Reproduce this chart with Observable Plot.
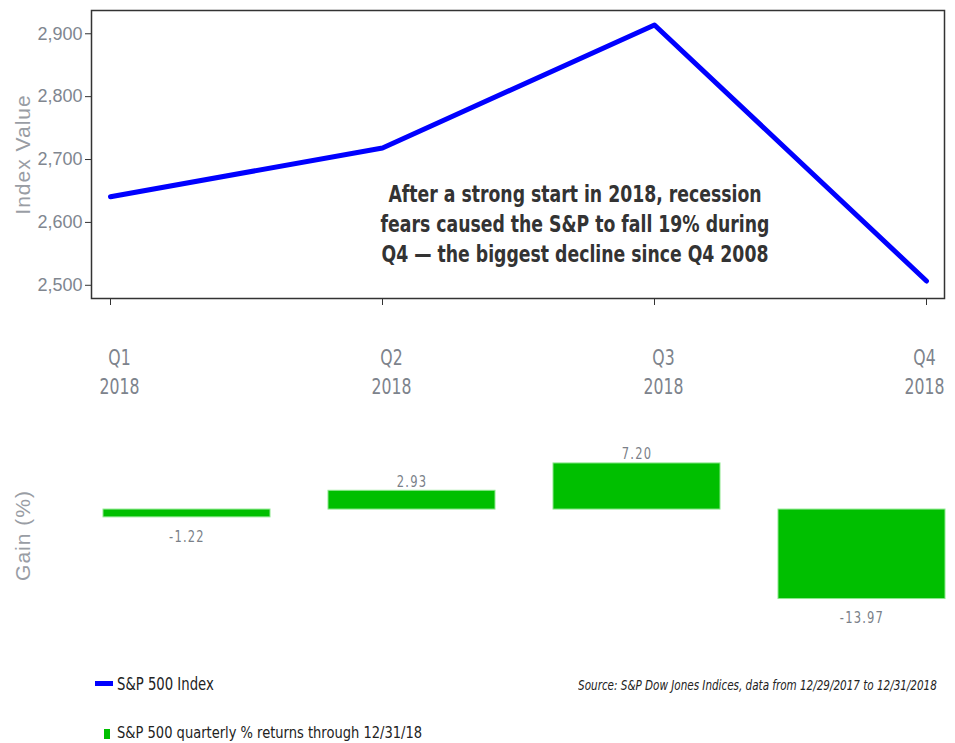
<!DOCTYPE html>
<html><head><meta charset="utf-8">
<script src="https://cdn.jsdelivr.net/npm/d3@7"></script>
<script src="https://cdn.jsdelivr.net/npm/@observablehq/plot@0.6"></script>
<style>
body{margin:0;background:#fff;}
#wrap{position:relative;width:955px;height:743px;overflow:hidden;background:#fff}
#line,#bars{position:absolute;left:0}
#line{top:0}
#bars{top:400px}
.narrow{font-family:"Liberation Sans Narrow","DejaVu Sans Condensed",sans-serif;}
.leg{position:absolute;font-size:17px;color:#222;white-space:nowrap;line-height:16px}
.sw{position:absolute}
</style></head><body>
<div id="wrap">
<div id="line"></div>
<div id="bars"></div>
<div id="legend"></div>
</div>
<script>
const quarters = ["Q1 2018", "Q2 2018", "Q3 2018", "Q4 2018"];
const indexValues = [2640.87, 2718.37, 2913.98, 2506.85];
const quarterlyReturns = [-1.22, 2.93, 7.20, -13.97];
const yTicks = [2500, 2600, 2700, 2800, 2900];
const annotation = "After a strong start in 2018, recession\nfears caused the S&P to fall 19% during\nQ4 \u2014 the biggest decline since Q4 2008";
const legendLabels = ["S&P 500 Index", "S&P 500 quarterly % returns through 12/31/18"];
const legendColors = ["#0000ff", "#00bf00"];
const sourceNote = "Source: S&P Dow Jones Indices, data from 12/29/2017 to 12/31/2018";

const NARROW = '"Liberation Sans Narrow","DejaVu Sans Condensed",sans-serif';
const REG = '"Liberation Sans",Arial,sans-serif';

const lineData = quarters.map((q, i) => ({quarter: q, value: indexValues[i]}));
const barData = quarters.map((q, i) => ({quarter: q, value: quarterlyReturns[i]}));

const lineChart = Plot.plot({
  width: 955, height: 400,
  marginLeft: 91, marginRight: 11, marginTop: 10, marginBottom: 102,
  style: {background: "#fff", fontFamily: REG},
  x: {type: "point", domain: quarters, padding: 0.066},
  y: {domain: [2479, 2937]},
  marks: [
    Plot.frame({stroke: "#333", strokeWidth: 1.5}),
    Plot.axisY({ticks: yTicks, tickFormat: d3.format(","), fontSize: 18, fill: "#80868f", stroke: "#333",
      tickSize: 6, label: "Index Value", labelAnchor: "center", labelOffset: 76, labelArrow: "none"}),
    Plot.axisX({tickSize: 7, tickPadding: 39, fontSize: 21, lineHeight: 1.38, fontFamily: NARROW,
      tickFormat: d => d.replace(" ", "\n"), fill: "#7d838c", stroke: "#333", label: null}),
    Plot.line(lineData, {x: "quarter", y: "value", stroke: "#0000ff", strokeWidth: 5}),
    Plot.text([annotation], {frameAnchor: "middle", dx: 57, dy: 68, text: d => d, fontFamily: NARROW,
      fontWeight: "bold", fontSize: 23, fill: "#333", lineHeight: 1.3})
  ]
});
document.getElementById("line").append(lineChart);

const barChart = Plot.plot({
  width: 955, height: 240,
  marginLeft: 102, marginRight: 9, marginTop: 45, marginBottom: 15,
  style: {background: "transparent", fontFamily: REG},
  x: {type: "band", domain: quarters, paddingInner: 0.26, paddingOuter: 0, axis: null},
  y: {domain: [-18.1, 10]},
  marks: [
    Plot.axisY({ticks: [], label: "Gain (%)", labelAnchor: "center", labelOffset: 87, labelArrow: "none",
      fontSize: 18, fill: "#858a93"}),
    Plot.barY(barData, {x: "quarter", y: "value", fill: "#00bf00", stroke: "#8ee88e", strokeWidth: 1}),
    Plot.text(barData.filter(d => d.value >= 0), {x: "quarter", y: "value", text: d => d.value.toFixed(2),
      lineAnchor: "bottom", dy: -4, fontSize: 16, fill: "#7a7f88", fontFamily: NARROW}),
    Plot.text(barData.filter(d => d.value < 0), {x: "quarter", y: "value", text: d => d.value.toFixed(2),
      lineAnchor: "top", dy: 13, fontSize: 16, fill: "#7a7f88", fontFamily: NARROW})
  ]
});
document.getElementById("bars").append(barChart);

// horizontally condense an SVG text element around its anchor point (optional shift)
function condense(t, sx, shift = 0) {
  const anchor = t.getAttribute("text-anchor") || t.closest("[text-anchor]")?.getAttribute("text-anchor") || "start";
  const b = t.getBBox();
  const ax = anchor === "middle" ? b.x + b.width / 2 : anchor === "end" ? b.x + b.width : b.x;
  const T = t.getAttribute("transform") || "";
  t.setAttribute("transform", `${T} translate(${ax + shift},0) scale(${sx},1) translate(${-ax},0)`);
}

for (const svg of [lineChart, barChart]) {
  svg.querySelectorAll("text").forEach(t => {
    const s = t.textContent;
    if (s === "Index Value" || s === "Gain (%)") { t.style.letterSpacing = "1px"; t.setAttribute("font-size", 21); t.setAttribute("fill", "#999da4"); }
  });
}
// condense narrow texts
const xLabels = [...lineChart.querySelectorAll("g[aria-label='x-axis tick label'] text")];
xLabels.forEach((t, i) => condense(t, 0.83, i === xLabels.length - 1 ? -2 : 9));
lineChart.querySelectorAll("g[aria-label='text'] text").forEach(t => condense(t, 0.835));
barChart.querySelectorAll("g[aria-label='text'] text").forEach(t => { t.style.letterSpacing = "1.5px"; condense(t, 0.8); });

// legend
const esc = s => s.replace(/&/g, "&amp;");
const leg = document.getElementById("legend");
leg.innerHTML = `
  <div class="sw" style="left:95px;top:681px;width:18px;height:5px;background:${legendColors[0]}"></div>
  <div class="leg narrow" style="left:117px;top:676px;transform:scaleX(0.865);transform-origin:0 0">${esc(legendLabels[0])}</div>
  <div class="leg narrow" style="right:18px;top:677px;font-size:14px;font-style:italic;transform:scaleX(0.825);transform-origin:100% 0">${esc(sourceNote)}</div>
  <div class="sw" style="left:104px;top:729px;width:6px;height:10px;background:${legendColors[1]}"></div>
  <div class="leg narrow" style="left:117px;top:725px;font-size:16.5px;transform:scaleX(0.88);transform-origin:0 0">${esc(legendLabels[1])}</div>`;
</script>
</body></html>
